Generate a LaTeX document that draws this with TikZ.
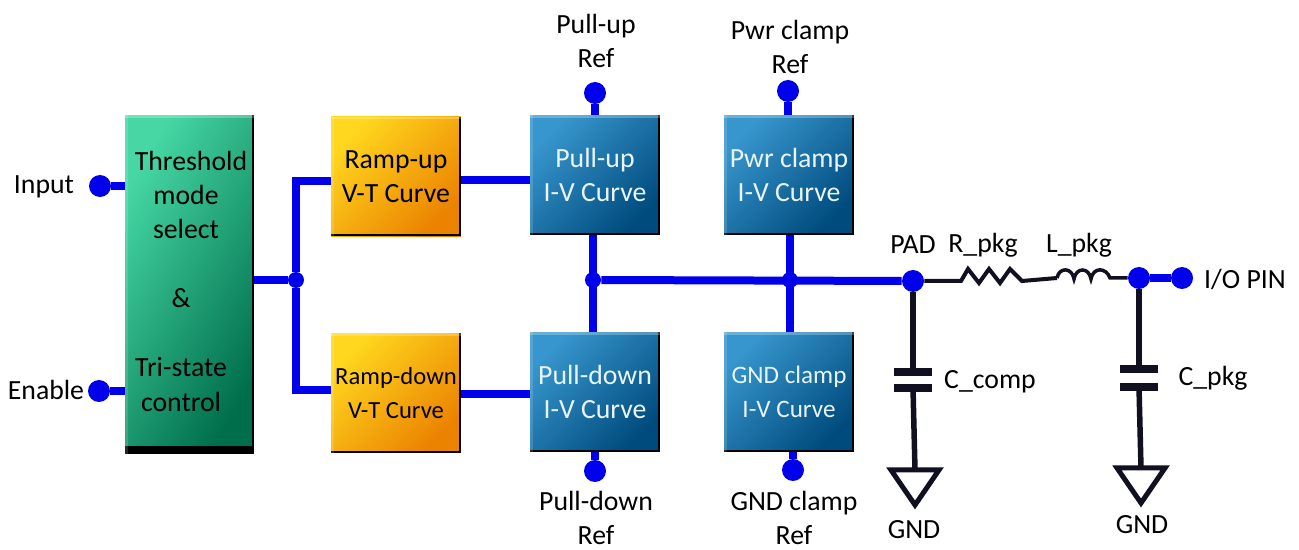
\documentclass[tikz,border=0pt]{standalone}
\usepackage{fontspec}
\setmainfont{Carlito}
\definecolor{busblue}{RGB}{0,0,235}
\definecolor{wireblack}{RGB}{16,16,32}
\begin{document}
\begin{tikzpicture}[x=0.02cm,y=-0.02cm,
  font=\fontsize{15.8}{19.6}\selectfont,
  every node/.style={align=center,inner sep=0pt},
  bevel/.style={path picture={
    \fill[black] ([yshift=#1]path picture bounding box.south west) rectangle (path picture bounding box.south east);
    \fill[black] ([xshift=-1.2pt]path picture bounding box.north east) rectangle (path picture bounding box.south east);
    \fill[white,opacity=0.25] ([yshift=-1.5pt]path picture bounding box.north west) rectangle (path picture bounding box.north east);
    \fill[white,opacity=0.15] ([xshift=1.5pt]path picture bounding box.north west) rectangle (path picture bounding box.south west);}},
  greenbox/.style={minimum width=2.58cm,minimum height=6.78cm,top color={rgb,255:red,70;green,215;blue,165},
    middle color={rgb,255:red,15;green,150;blue,105},bottom color={rgb,255:red,0;green,110;blue,75},shading angle=60,bevel=4.5pt},
  rampbox/.style={minimum width=2.6cm,minimum height=2.4cm,top color={rgb,255:red,255;green,215;blue,30},
    middle color={rgb,255:red,255;green,160;blue,20},bottom color={rgb,255:red,235;green,130;blue,0},shading angle=45,bevel=1.2pt},
  curvebox/.style={minimum width=2.6cm,minimum height=2.4cm,text={rgb,255:red,232;green,244;blue,250},top color={rgb,255:red,55;green,150;blue,205},
    middle color={rgb,255:red,12;green,100;blue,155},bottom color={rgb,255:red,0;green,75;blue,125},shading angle=45,bevel=1.2pt},
  bigdot/.style={fill=busblue,circle,minimum size=0.44cm},
  joint/.style={fill=busblue,circle,minimum size=0.32cm},
  bus/.style={draw=busblue,line width=0.16cm},
  wire/.style={draw=wireblack,line width=0.11cm},
  plate/.style={draw=wireblack,line width=0.16cm},
  gndmark/.style={draw=wireblack,line width=0.1cm,line join=miter}]

\useasboundingbox (0,0) rectangle (1299,550);

%draw blocks
    \node[greenbox] (thresh) at (189.5,284.5) {\hspace*{1.7pt}Threshold\\\hspace*{-4pt}mode\\\hspace*{-4pt}select\\[19.6pt]\hspace*{-9.6pt}\&\\[19.6pt]\hspace*{-9.6pt}Tri-state\\\hspace*{-9.6pt}control\rule[-4pt]{0pt}{0pt}};
    \node[rampbox] (rampup) at (396,176.5) {Ramp-up\\V-T Curve};
    \node[rampbox,font=\fontsize{14}{19.6}\selectfont] (rampdown) at (396,393) {Ramp-down\\V-T Curve};
    \foreach \name/\cx/\cy/\lbl/\fsize in {pullup/595/175/Pull-up/15.8,pwrclamp/789/175/Pwr clamp/15.8,pulldown/595/392/Pull-down/15.8,gndclamp/789/392/GND clamp/14.3}
    \node[curvebox,font=\fontsize{\fsize}{19.6}\selectfont] (\name) at (\cx,\cy) {\lbl\\I-V Curve};

%terminals and junctions
    \foreach \name/\cx/\cy in {input/100/186,enable/99/391,upref/595/93,pwrref/788/91,downref/595/471,gndref/793/470,pad/913/281,pkgnode/1139/278,iopin/1182/278}
    \node[bigdot] (\name) at (\cx,\cy) {};
    \foreach \name/\cx/\cy in {split/296/280,upjoint/593/280,clampjoint/790/280}
    \node[joint] (\name) at (\cx,\cy) {};

%draw blue nets
    \coordinate (upin) at (331,181);
    \coordinate (downin) at (331,390);
    \coordinate (upout) at (461,180);
    \coordinate (upcurve) at (530,180);
    \coordinate (downout) at (461,394);
    \coordinate (downcurve) at (530,394);
    \draw[bus] (input) -- (input -| thresh.west);
    \draw[bus] (enable) -- (enable -| thresh.west);
    \draw[bus] (split -| thresh.east) -- (split);
    \draw[bus] (upin) -| (split) |- (downin);
    \draw[bus] (upout) -- (upcurve);
    \draw[bus] (downout) -- (downcurve);
    \draw[bus] (upref) -- (upref |- pullup.north);
    \draw[bus] (pwrref) -- (pwrref |- pwrclamp.north);
    \draw[bus] (downref) -- (downref |- pulldown.south);
    \draw[bus] (gndref) -- (gndref |- gndclamp.south);
    \draw[bus] (upjoint |- pullup.south) -- (upjoint |- pulldown.north);
    \draw[bus] (clampjoint |- pwrclamp.south) -- (clampjoint |- gndclamp.north);
    \draw[bus] (upjoint) -- (pad);
    \draw[bus] (pkgnode) -- (iopin);

%draw package parasitics
    \coordinate (resin) at (961,281);
    \coordinate (resout) at (1022,281);
    \coordinate (indin) at (1057,278);
    \coordinate (indout) at (1110,278);
    \draw[draw=wireblack,line width=0.08cm] (pad) -- (resin) -- (968,269) -- (979,283) -- (989,269) -- (1000,283) -- (1010,269) -- (resout) -- (indin);
    \draw[draw=wireblack,line width=0.07cm] (indin) .. controls (1059,267) and (1072,267) .. (1074,279)
       .. controls (1076,267) and (1089,267) .. (1091,279)
       .. controls (1093,267) and (1106,267) .. (indout) -- (pkgnode);

%draw caps and grounds
    \foreach \top/\cx/\ya/\yb/\gy/\tipx in {pad/913/372/388/470/915,pkgnode/1139/369/387/468/1141}
    {
    \coordinate (capa) at (\cx,\ya);
    \coordinate (capb) at (\cx,\yb);
    \coordinate (gndtop) at (\tipx,\gy);
    \draw[wire] (\top) -- (capa);
    \draw[wire] (capb) -- (gndtop);
    \draw[plate] (\cx-19,\ya) -- (\cx+19,\ya);
    \draw[plate] (\cx-19,\yb) -- (\cx+19,\yb);
    \draw[gndmark] (\tipx-24,\gy) -- (\tipx+24,\gy) -- (\tipx,\gy+35) -- cycle;
    }

%labels
    \node (inputlbl) at (44,187) {Input};
    \node (enablelbl) at (46,390) {Enable};
    \node (uplbl) at (596,41) {Pull-up\\Ref};
    \node (pwrlbl) at (790,47) {Pwr clamp\\Ref};
    \node (downlbl) at (596,518) {Pull-down\\Ref};
    \node (gndlbl) at (794,518) {GND clamp\\Ref};
    \node (padlbl) at (913,245) {PAD};
    \node (rlbl) at (983,245) {R\_pkg};
    \node (llbl) at (1079,245) {L\_pkg};
    \node (ccomplbl) at (990,382) {C\_comp};
    \node (cpkglbl) at (1213,378) {C\_pkg};
    \node (ioplbl) at (1245,279) {I/O PIN};
    \node (gnda) at (914,530) {GND};
    \node (gndb) at (1142,525) {GND};

    \end{tikzpicture}
\end{document}
